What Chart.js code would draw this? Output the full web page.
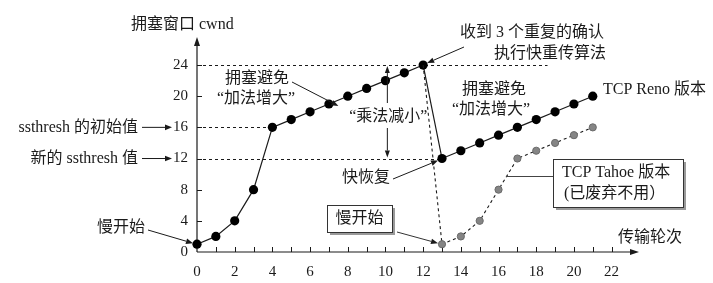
<!DOCTYPE html>
<html>
<head>
<meta charset="utf-8">
<script src="https://cdn.jsdelivr.net/npm/chart.js@4.4.0/dist/chart.umd.min.js"></script>
<style>
  html, body { margin: 0; padding: 0; background: #fff; }
  #wrap { width: 713px; height: 283px; }
</style>
</head>
<body>
<div id="wrap"><canvas id="cwndChart" width="713" height="283"></canvas></div>
<script>
// transmission rounds and congestion window values
const renoRounds = [0,1,2,3,4,5,6,7,8,9,10,11,12,13,14,15,16,17,18,19,20,21];
const renoCwnd   = [1,2,4,8,16,17,18,19,20,21,22,23,24,12,13,14,15,16,17,18,19,20];
const tahoeRounds = [12,13,14,15,16,17,18,19,20,21];
const tahoeCwnd   = [24,1,2,4,8,12,13,14,15,16];

const xTickValues = [0,2,4,6,8,10,12,14,16,18,20,22];
const yTickValues = [0,4,8,12,16,20,24];

// dashed guide lines: level and the round where each one stops
const guideLevels = [24,16,12];
const guideEnds   = [18.6,4,13];

const FONT = '"Liberation Serif", "Noto Sans CJK SC", serif';
const INK = '#1a1a1a';

const toPoints = (xs, ys) => xs.map((x, i) => ({ x: x, y: ys[i] }));

// small helper: line with a filled arrow head at (x2, y2)
function arrowLine(ctx, x1, y1, x2, y2, head = 7, hw = 2.8) {
  const a = Math.atan2(y2 - y1, x2 - x1);
  const bx = x2 - head * Math.cos(a), by = y2 - head * Math.sin(a);
  ctx.beginPath();
  ctx.moveTo(x1, y1);
  ctx.lineTo(bx, by);
  ctx.stroke();
  ctx.beginPath();
  ctx.moveTo(x2, y2);
  ctx.lineTo(bx + hw * Math.sin(a), by - hw * Math.cos(a));
  ctx.lineTo(bx - hw * Math.sin(a), by + hw * Math.cos(a));
  ctx.closePath();
  ctx.fill();
}

function shadowBox(ctx, x, y, w, h) {
  ctx.fillStyle = '#9a9a9a';
  ctx.fillRect(x + 3, y + 3, w, h);
  ctx.fillStyle = '#fff';
  ctx.fillRect(x, y, w, h);
  ctx.strokeStyle = '#333';
  ctx.lineWidth = 1;
  ctx.strokeRect(x + 0.5, y + 0.5, w, h);
}

const axesPlugin = {
  id: 'axesPlugin',
  beforeDatasetsDraw(chart) {
    const { ctx, scales: { x, y } } = chart;
    const px = v => x.getPixelForValue(v);
    const py = v => y.getPixelForValue(v);
    ctx.save();
    ctx.strokeStyle = INK;
    ctx.fillStyle = INK;
    ctx.lineWidth = 1.2;
    // axes with arrow heads
    arrowLine(ctx, px(0), py(0), x.right + 1, py(0), 9, 3);
    arrowLine(ctx, px(0), py(0), px(0), y.top, 9, 3);
    // tick marks drawn inside the axes
    ctx.lineWidth = 1;
    ctx.beginPath();
    for (let r = 1; r <= 22; r++) {
      ctx.moveTo(Math.round(px(r)) + 0.5, py(0));
      ctx.lineTo(Math.round(px(r)) + 0.5, py(0) - 5);
    }
    yTickValues.slice(1).forEach(v => {
      ctx.moveTo(px(0), Math.round(py(v)) + 0.5);
      ctx.lineTo(px(0) + 5, Math.round(py(v)) + 0.5);
    });
    ctx.stroke();
    // dashed guide lines
    ctx.setLineDash([3, 3]);
    ctx.beginPath();
    guideLevels.forEach((lv, i) => {
      ctx.moveTo(px(0), Math.round(py(lv)) + 0.5);
      ctx.lineTo(px(guideEnds[i]), Math.round(py(lv)) + 0.5);
    });
    ctx.stroke();
    ctx.setLineDash([]);
    ctx.restore();
  },
  afterDatasetsDraw(chart) {
    const { ctx, scales: { x, y } } = chart;
    const px = v => x.getPixelForValue(v);
    const py = v => y.getPixelForValue(v);
    ctx.save();
    ctx.fillStyle = INK;
    ctx.strokeStyle = INK;
    ctx.lineWidth = 1;
    ctx.font = '16px ' + FONT;
    ctx.textBaseline = 'middle';

    // axis titles
    ctx.textAlign = 'left';
    ctx.fillText('拥塞窗口 cwnd', 131, 25);
    ctx.fillText('传输轮次', 618, 238);

    // threshold labels on the y axis
    ctx.textAlign = 'right';
    ctx.fillText('ssthresh 的初始值', 138, py(16));
    arrowLine(ctx, 142, py(16), 172, py(16));
    ctx.fillText('新的 ssthresh 值', 138, py(12));
    arrowLine(ctx, 142, py(12), 172, py(12));

    // slow start (left)
    ctx.fillText('慢开始', 145, 228);
    arrowLine(ctx, 148, 230, px(0) - 4, py(1) - 1);

    // congestion avoidance (left)
    ctx.textAlign = 'center';
    ctx.fillText('拥塞避免', 257, 79);
    ctx.fillText('\u201C加法增大\u201D', 256, 99);
    arrowLine(ctx, 292, 82, px(7.5), py(18.5) - 2);

    // three duplicate acks
    ctx.textAlign = 'left';
    ctx.fillText('收到 3 个重复的确认', 460, 33);
    ctx.fillText('执行快重传算法', 494, 54);
    arrowLine(ctx, 464, 47, px(12) + 4, py(24) - 2);

    // multiplicative decrease
    ctx.textAlign = 'center';
    const mx = px(10.1);
    ctx.fillText('\u201C乘法减小\u201D', mx + 1, 117);
    arrowLine(ctx, mx, 103, mx, py(24) + 1, 7, 2.5);
    arrowLine(ctx, mx, 128, mx, py(12) - 1, 7, 2.5);

    // congestion avoidance (right)
    ctx.fillText('拥塞避免', 494, 90);
    ctx.fillText('\u201C加法增大\u201D', 491, 110);

    ctx.textAlign = 'left';
    ctx.fillText('TCP Reno 版本', 603, 90);

    // fast recovery
    ctx.textAlign = 'right';
    ctx.fillText('快恢复', 390, 178);
    arrowLine(ctx, 393, 179, px(13) - 4, py(12) + 2);

    // boxed slow start
    shadowBox(ctx, 327, 205, 65, 27);
    ctx.fillStyle = INK;
    ctx.textAlign = 'center';
    ctx.fillText('慢开始', 359.5, 219);
    arrowLine(ctx, 397, 232, px(13) - 4, py(1) - 1);

    // boxed tahoe note with connector
    ctx.strokeStyle = '#444';
    ctx.beginPath();
    ctx.moveTo(px(16.4), 176.5);
    ctx.lineTo(553, 176.5);
    ctx.stroke();
    shadowBox(ctx, 553, 159, 130, 48);
    ctx.fillStyle = INK;
    ctx.textAlign = 'left';
    ctx.fillText('TCP Tahoe 版本', 562, 173);
    ctx.fillText('(已废弃不用）', 564, 194);

    ctx.restore();
  }
};

const canvas = document.getElementById('cwndChart');
new Chart(canvas.getContext('2d'), {
  type: 'line',
  data: {
    datasets: [
      {
        label: 'TCP Tahoe',
        data: toPoints(tahoeRounds, tahoeCwnd),
        borderColor: INK,
        borderWidth: 1.1,
        borderDash: [3, 3],
        backgroundColor: '#808080',
        pointBackgroundColor: '#858585',
        pointBorderColor: '#6a6a6a',
        pointBorderWidth: 1,
        pointRadius: tahoeRounds.map((r, i) => (i === 0 ? 0 : 3.6)),
        tension: 0,
        clip: false
      },
      {
        label: 'TCP Reno',
        data: toPoints(renoRounds, renoCwnd),
        borderColor: INK,
        borderWidth: 1.2,
        backgroundColor: '#000',
        pointBackgroundColor: '#000',
        pointBorderColor: '#000',
        pointBorderWidth: 0,
        pointRadius: 4.6,
        tension: 0,
        clip: false
      }
    ]
  },
  options: {
    responsive: false,
    animation: false,
    devicePixelRatio: 1,
    layout: { padding: { left: 0, right: 75, top: 37, bottom: 0 } },
    plugins: { legend: { display: false }, tooltip: { enabled: false } },
    scales: {
      x: {
        type: 'linear',
        min: 0,
        max: 23.4,
        grid: { display: false, drawTicks: false },
        border: { display: false },
        afterBuildTicks: s => { s.ticks = xTickValues.map(v => ({ value: v })); },
        afterFit: s => { s.height = 31; },
        ticks: {
          color: INK,
          padding: 11,
          maxRotation: 0,
          autoSkip: false,
          font: { family: FONT, size: 15 }
        }
      },
      y: {
        type: 'linear',
        min: 0,
        max: 27.6,
        grid: { display: false, drawTicks: false },
        border: { display: false },
        afterBuildTicks: s => { s.ticks = yTickValues.map(v => ({ value: v })); },
        afterFit: s => { s.width = 197; },
        ticks: {
          color: INK,
          padding: 9,
          autoSkip: false,
          font: { family: FONT, size: 15 }
        }
      }
    }
  },
  plugins: [axesPlugin]
});
</script>
</body>
</html>
